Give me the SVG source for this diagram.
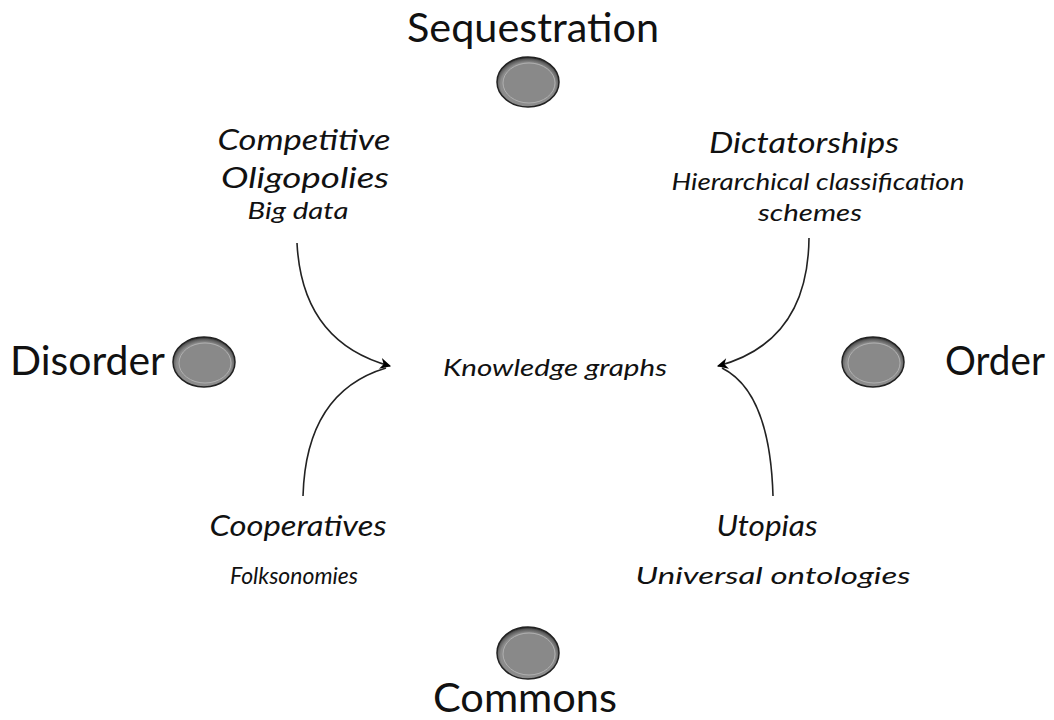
<svg xmlns="http://www.w3.org/2000/svg" width="1054" height="720" viewBox="0 0 1054 720">
<defs>
<radialGradient id="rim" cx="0.5" cy="0.55" r="0.55">
<stop offset="0.8" stop-color="#8c8c8c"/>
<stop offset="0.92" stop-color="#5a5a5a"/>
<stop offset="1" stop-color="#1e1e1e"/>
</radialGradient>
<marker id="ah" viewBox="0 0 10 10" refX="9" refY="5" markerWidth="13" markerHeight="11" orient="auto" markerUnits="userSpaceOnUse">
<path d="M0,0 L10,5 L0,10 L3,5 Z" fill="#000"/>
</marker>
</defs>
<style>
.big{font-family:Lato,"Open Sans",sans-serif;font-size:41px;fill:#111;}
.it{font-family:Lato,"Open Sans",sans-serif;font-style:italic;font-size:29px;fill:#111;}
.sm{font-family:Lato,"Open Sans",sans-serif;font-style:italic;font-size:24px;fill:#111;}
.outer{fill:url(#rim);stroke:#222;stroke-width:1.5;}
.inner{fill:#898989;stroke:#b0b0b0;stroke-width:1;}
.conn{fill:none;stroke:#222;stroke-width:1.6;}
</style>
<rect width="1054" height="720" fill="#fff"/>
<g id="sequestration">
<ellipse class="outer" cx="528" cy="82" rx="31" ry="25"/>
<ellipse class="inner" cx="529" cy="83" rx="26" ry="20"/>
<text class="big" x="533" y="42" text-anchor="middle" textLength="252" lengthAdjust="spacingAndGlyphs">Sequestration</text>
</g>
<g id="disorder">
<ellipse class="outer" cx="204" cy="362" rx="31" ry="25"/>
<ellipse class="inner" cx="205" cy="363" rx="26" ry="20"/>
<text class="big" x="10" y="375" textLength="155" lengthAdjust="spacingAndGlyphs">Disorder</text>
</g>
<g id="order">
<ellipse class="outer" cx="873" cy="362" rx="31" ry="25"/>
<ellipse class="inner" cx="874" cy="363" rx="26" ry="20"/>
<text class="big" x="945" y="375" textLength="100" lengthAdjust="spacingAndGlyphs">Order</text>
</g>
<g id="commons">
<ellipse class="outer" cx="528" cy="653" rx="31" ry="26"/>
<ellipse class="inner" cx="529" cy="654" rx="26" ry="21"/>
<text class="big" x="525" y="712" text-anchor="middle" textLength="184" lengthAdjust="spacingAndGlyphs">Commons</text>
</g>
<g id="competitive">
<text class="it" x="304" y="150" text-anchor="middle" textLength="173" lengthAdjust="spacingAndGlyphs">Competitive</text>
<text class="it" x="305" y="188" text-anchor="middle" textLength="168" lengthAdjust="spacingAndGlyphs">Oligopolies</text>
<text class="sm" x="298" y="219" text-anchor="middle" textLength="101" lengthAdjust="spacingAndGlyphs">Big data</text>
</g>
<g id="dictatorships">
<text class="it" x="804" y="153" text-anchor="middle" textLength="190" lengthAdjust="spacingAndGlyphs">Dictatorships</text>
<text class="sm" x="818" y="190" text-anchor="middle" textLength="293" lengthAdjust="spacingAndGlyphs">Hierarchical classification</text>
<text class="sm" x="810" y="221" text-anchor="middle" textLength="104" lengthAdjust="spacingAndGlyphs">schemes</text>
</g>
<g id="knowledge">
<text class="sm" x="555" y="376" text-anchor="middle" textLength="224" lengthAdjust="spacingAndGlyphs">Knowledge graphs</text>
</g>
<g id="cooperatives">
<text class="it" x="298" y="536" text-anchor="middle" textLength="177" lengthAdjust="spacingAndGlyphs">Cooperatives</text>
<text class="sm" x="294" y="584" text-anchor="middle" textLength="128" lengthAdjust="spacingAndGlyphs">Folksonomies</text>
</g>
<g id="utopias">
<text class="it" x="767" y="536" text-anchor="middle" textLength="101" lengthAdjust="spacingAndGlyphs">Utopias</text>
<text class="sm" x="773" y="584" text-anchor="middle" textLength="275" lengthAdjust="spacingAndGlyphs">Universal ontologies</text>
</g>
<g id="connectors">
<path class="conn" d="M297,243 Q302,342 390,366" marker-end="url(#ah)"/>
<path class="conn" d="M303,496 Q306,392 386,368"/>
<path class="conn" d="M809,238 Q808,342 718,366" marker-end="url(#ah)"/>
<path class="conn" d="M773,496 Q770,392 722,368"/>
</g>
</svg>
